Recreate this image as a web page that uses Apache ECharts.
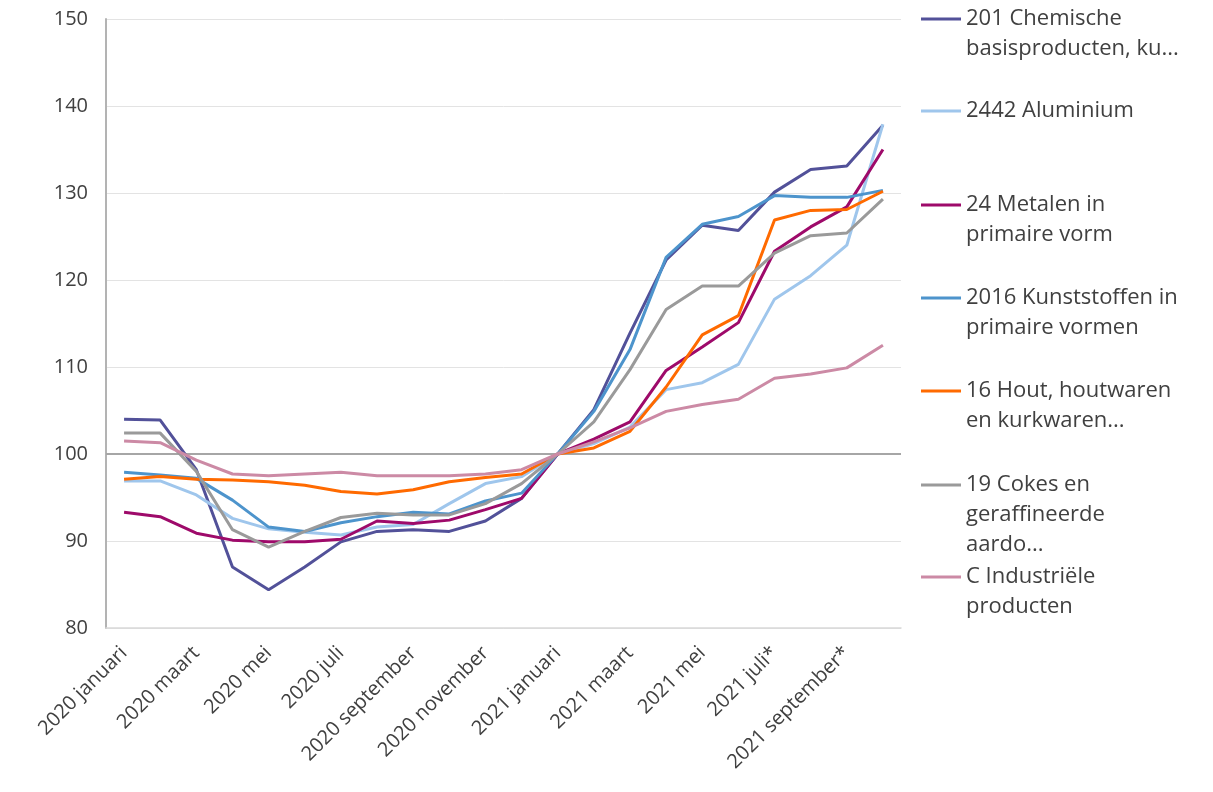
<!DOCTYPE html>
<html>
<head>
<meta charset="utf-8">
<script src="https://cdn.jsdelivr.net/npm/echarts@6/dist/echarts.min.js"></script>
<style>
  html, body { margin: 0; padding: 0; background: #fff; }
  #chart { width: 1213px; height: 792px; }
</style>
</head>
<body>
<div id="chart"></div>
<script>
// maanden (x-as)
var months = [
    '2020 januari', '2020 februari', '2020 maart', '2020 april', '2020 mei', '2020 juni',
    '2020 juli', '2020 augustus', '2020 september', '2020 oktober', '2020 november', '2020 december',
    '2021 januari', '2021 februari', '2021 maart', '2021 april', '2021 mei', '2021 juni',
    '2021 juli*', '2021 augustus*', '2021 september*', '2021 oktober*'
];

// index, januari 2021 = 100
var chemisch = [104.0, 103.9, 98.2, 87.0, 84.4, 87.0, 89.9, 91.1, 91.3, 91.1, 92.3, 94.9, 100, 105.1, 113.9, 122.3, 126.3, 125.7, 130.1, 132.7, 133.1, 137.8];
var aluminium = [96.9, 96.9, 95.3, 92.6, 91.4, 91.0, 90.7, 91.6, 91.9, 94.3, 96.6, 97.4, 100, 101.2, 103.1, 107.4, 108.2, 110.3, 117.8, 120.5, 124.0, 137.9];
var metalen = [93.3, 92.8, 90.9, 90.1, 89.9, 89.9, 90.2, 92.3, 92.0, 92.4, 93.6, 94.9, 100, 101.7, 103.7, 109.6, 112.3, 115.1, 123.3, 126.1, 128.4, 135.0];
var kunststoffen = [97.9, 97.6, 97.2, 94.7, 91.6, 91.1, 92.1, 92.8, 93.3, 93.1, 94.6, 95.5, 100, 104.9, 112.0, 122.6, 126.4, 127.3, 129.7, 129.5, 129.5, 130.3];
var hout = [97.1, 97.4, 97.1, 97.0, 96.8, 96.4, 95.7, 95.4, 95.9, 96.8, 97.3, 97.7, 100, 100.7, 102.6, 107.7, 113.7, 115.9, 126.9, 128.0, 128.1, 130.2];
var cokes = [102.4, 102.4, 98.0, 91.3, 89.3, 91.1, 92.7, 93.2, 93.0, 93.0, 94.3, 96.6, 100, 103.7, 109.7, 116.6, 119.3, 119.3, 123.1, 125.1, 125.4, 129.3];
var industrie = [101.5, 101.3, 99.3, 97.7, 97.5, 97.7, 97.9, 97.5, 97.5, 97.5, 97.7, 98.2, 100, 101.4, 103.0, 104.9, 105.7, 106.3, 108.7, 109.2, 109.9, 112.5];

var names = [
    '201 Chemische\nbasisproducten, ku...',
    '2442 Aluminium',
    '24 Metalen in\nprimaire vorm',
    '2016 Kunststoffen in\nprimaire vormen',
    '16 Hout, houtwaren\nen kurkwaren...',
    '19 Cokes en\ngeraffineerde\naardo...',
    'C Industriële\nproducten'
];
var values = [chemisch, aluminium, metalen, kunststoffen, hout, cokes, industrie];
var colors = ['#525199', '#9fc6ec', '#9e0a6a', '#4d94cc', '#ff6a00', '#9a9a9a', '#cc8aa5'];

var FONT = 'Open Sans';
var TXT = '#404040';
var LH = 30;
// y-positie van het legendastreepje per item
var legendY = [19, 111, 205, 298, 391, 485, 577];

function padTop(n) {
    // lege regels boven de tekst zodat de eerste regel naast het streepje staat
    var s = '';
    for (var k = 1; k < n; k++) s += '\n';
    return s;
}

var legends = [];
var series = [];
for (var i = 0; i < names.length; i++) {
    var n = names[i].split('\n').length;
    legends.push({
        data: [names[i]],
        left: 921,
        top: legendY[i] - (2 * n - 1) * LH / 2,
        padding: 0,
        icon: 'rect',
        itemWidth: 40,
        itemHeight: 3,
        selectedMode: false,
        formatter: function (name) {
            return padTop(name.split('\n').length) + name;
        },
        textStyle: {
            fontFamily: FONT,
            fontSize: 22,
            color: TXT,
            lineHeight: LH
        }
    });
    series.push({
        name: names[i],
        type: 'line',
        data: values[i],
        symbol: 'none',
        color: colors[i],
        lineStyle: { width: 3, color: colors[i] },
        z: 2 + i
    });
}

// basislijn op 100
series[0].markLine = {
    silent: true,
    symbol: 'none',
    label: { show: false },
    lineStyle: { color: '#a6a6a6', width: 2, type: 'solid' },
    data: [{ yAxis: 100 }],
    z: 1
};

var chart = echarts.init(document.getElementById('chart'));
chart.setOption({
    backgroundColor: '#fff',
    animation: false,
    legend: legends,
    grid: { left: 106, right: 312, top: 19, bottom: 164 },
    xAxis: {
        type: 'category',
        data: months,
        boundaryGap: true,
        axisTick: { show: false },
        axisLine: { lineStyle: { color: '#d9d9d9', width: 1.5 } },
        axisLabel: {
            interval: 1,
            rotate: 45,
            margin: 22,
            fontFamily: FONT,
            fontSize: 20,
            color: TXT
        }
    },
    yAxis: {
        type: 'value',
        min: 80,
        max: 150,
        interval: 10,
        axisLine: { show: true, lineStyle: { color: '#b3b3b3', width: 2 } },
        axisTick: { show: false },
        splitLine: { lineStyle: { color: '#e3e3e3', width: 1 } },
        axisLabel: {
            margin: 18,
            fontFamily: FONT,
            fontSize: 20,
            color: TXT
        }
    },
    series: series
});
</script>
</body>
</html>
